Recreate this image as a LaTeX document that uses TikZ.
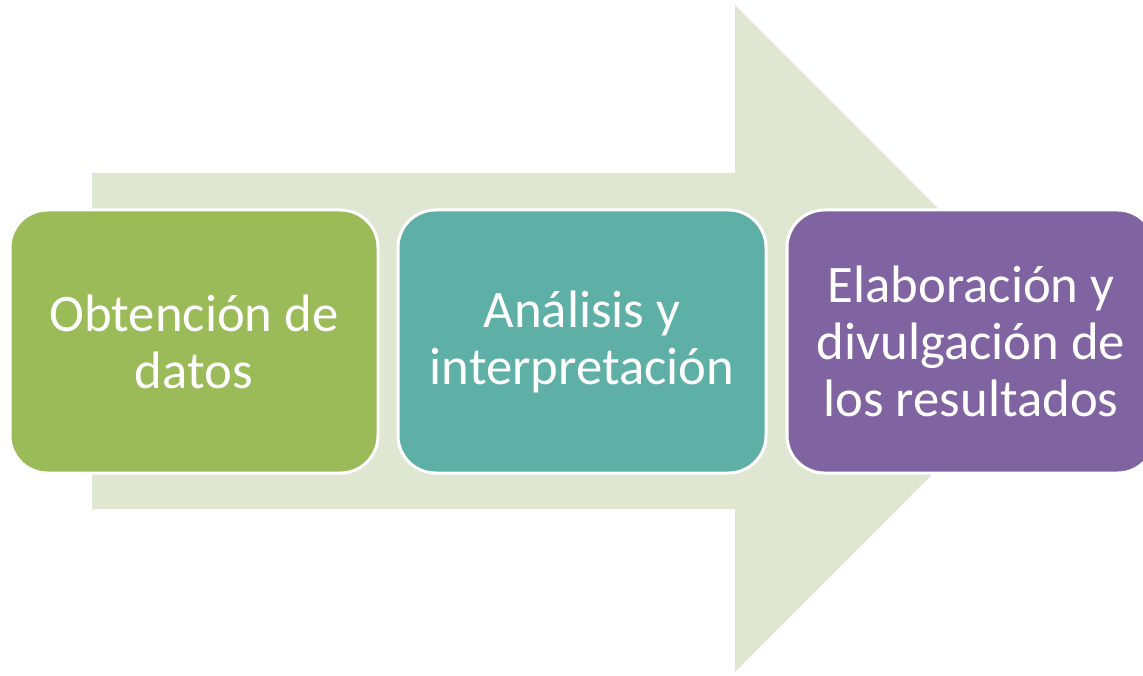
\documentclass[tikz,border=0pt]{standalone}
\usepackage{fontspec}
\setmainfont{Carlito}
\usetikzlibrary{calc}

\definecolor{arrowgreen}{HTML}{DFE7D3}
\definecolor{stepgreen}{HTML}{9BBB59}
\definecolor{stepteal}{HTML}{5EAFA6}
\definecolor{steppurple}{HTML}{8064A2}

\tikzset{
  stepbox/.style={rectangle, rounded corners=0.75cm, draw=white, line width=0.06cm,
    minimum width=7.36cm, minimum height=5.26cm, text=white, align=center,
    font=\fontsize{30}{32.5}\selectfont}
}

\begin{document}
\begin{tikzpicture}
    \useasboundingbox (0,0) rectangle (22.86,13.5);

    \coordinate (A0) at (1.84,3.32);
    \coordinate (A1) at (14.70,3.32);
    \coordinate (A2) at (14.70,0.06);
    \coordinate (A3) at (21.36,6.73);
    \coordinate (A4) at (14.70,13.40);
    \coordinate (A5) at (14.70,10.04);
    \coordinate (A6) at (1.84,10.04);

     \fill [arrowgreen] (A0) -- (A1) -- (A2) -- (A3) -- (A4) -- (A5) -- (A6) -- cycle;

     \node [stepbox, fill=stepgreen] (datos) at (3.88,6.67) {Obtención de\\datos};
     \node [stepbox, fill=stepteal] (analisis) at (11.64,6.67) {Análisis y\\interpretación};
     \node [stepbox, fill=steppurple] (divulgacion) at (19.42,6.67) {Elaboración y\\divulgación de\\los resultados};

  \end{tikzpicture}
\end{document}
